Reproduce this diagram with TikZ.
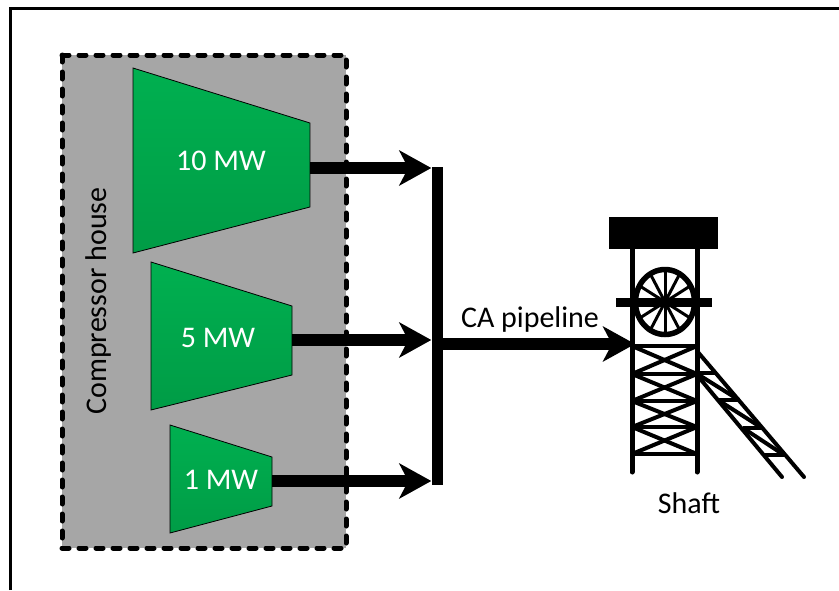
\documentclass[tikz,border=0pt]{standalone}
\usepackage{fontspec}
\setmainfont{Carlito}
\usetikzlibrary{arrows.meta,positioning}
\definecolor{housegray}{RGB}{166,166,166}
\definecolor{compgreen}{RGB}{0,176,80}
\definecolor{compdark}{RGB}{0,156,70}
\tikzset{
	every node/.style={
		font=\fontsize{30}{36}\selectfont,
		inner sep=0pt
	},
	house/.style={
		fill=housegray,
		draw,
		dash pattern=on 7pt off 10pt,
		line width=5pt,
		line cap=round
	},
	compressor/.style={
		top color=compgreen,
		bottom color=compdark,
		draw,
		line width=0.8pt
	},
	complabel/.style={
		text=white
	},
	bus/.style={
		shape=rectangle,
		fill=black,
		minimum width=11pt,
		minimum height=318pt
	},
	flow/.style={
		-{Stealth[length=32pt,width=35pt,inset=9pt]},
		line width=12pt
	},
	tower/.style={
		line width=5pt,
		line cap=round
	},
	brace/.style={
		line width=4pt
	}
}

\begin{document}
\begin{tikzpicture}[x=1pt,y=-1pt]
	
	\useasboundingbox (0,0) rectangle (839,590);
	\draw[line width=3pt] (10,590) -- (10,8) -- (839,8);
	
	\draw[house] (62,55) rectangle (346,548);
	\node[rotate=90] (house) at (99,301) {Compressor house};
	
	\draw[compressor] (133,68) -- (310,123) -- (310,207) -- (133,253) -- cycle;
	\draw[compressor] (151,262) -- (292,306) -- (292,375) -- (151,410) -- cycle;
	\draw[compressor] (170,425) -- (272,457) -- (272,506) -- (170,533) -- cycle;
	\node[complabel] (c10) at (221,161) {10 MW};
	\node[complabel] (c5) at (218,338) {5 MW};
	\node[complabel] (c1) at (221,480) {1 MW};
	
	\coordinate (out10) at (310,168);
	\coordinate (out5) at (292,340);
	\coordinate (out1) at (272,481);
	\coordinate (shaftin) at (635,344);
	
	\node[bus] (bar) at (437,326) {};
	\draw[flow] (out10) -- (out10 -| bar.west);
	\draw[flow] (out5) -- (out5 -| bar.west);
	\draw[flow] (out1) -- (out1 -| bar.west);
	\draw[flow] (bar.east |- shaftin) -- (shaftin);
	\node (pipe) at (530,319) {CA pipeline};
	
	% tower
	\fill (609,217) rectangle (718,249);
	\draw[tower] (632,249) -- (632,472);
	\draw[tower] (697,249) -- (697,472);
	\draw[line width=5.5pt] (665,302) ellipse (29.5 and 32.5);
	\foreach \a in {0,30,...,330}
		\draw[line width=3pt] (665,302) -- ++({29.5*cos(\a)},{32.5*sin(\a)});
	\draw[line width=9pt] (616,302) -- (712,302);
	
	\foreach \ya/\yb in {346/374,374/401,401/427,427/454} {
		\draw[brace] (632,\ya) -- (697,\yb);
		\draw[brace] (632,\yb) -- (697,\ya);
	}
	\foreach \y in {346,374,401,427,454}
		\draw[brace] (632,\y) -- (697,\y);
	
	% ramp
	\draw[brace,line cap=round] (697,351) -- (804,477);
	\draw[brace,line cap=round] (697,375) -- (782,477);
	\foreach \xa/\xb/\y in {697/717/373,718/739/400,743/762/428,765/784/455}
		\draw[brace] (\xa,\y) -- (\xb,\y);
	\draw[brace] (699,375) -- (739,400);
	\draw[brace] (718,400) -- (762,428);
	\draw[brace] (743,428) -- (784,455);
	
	\node (shaft) at (689,503) {Shaft};
	
\end{tikzpicture}
\end{document}
